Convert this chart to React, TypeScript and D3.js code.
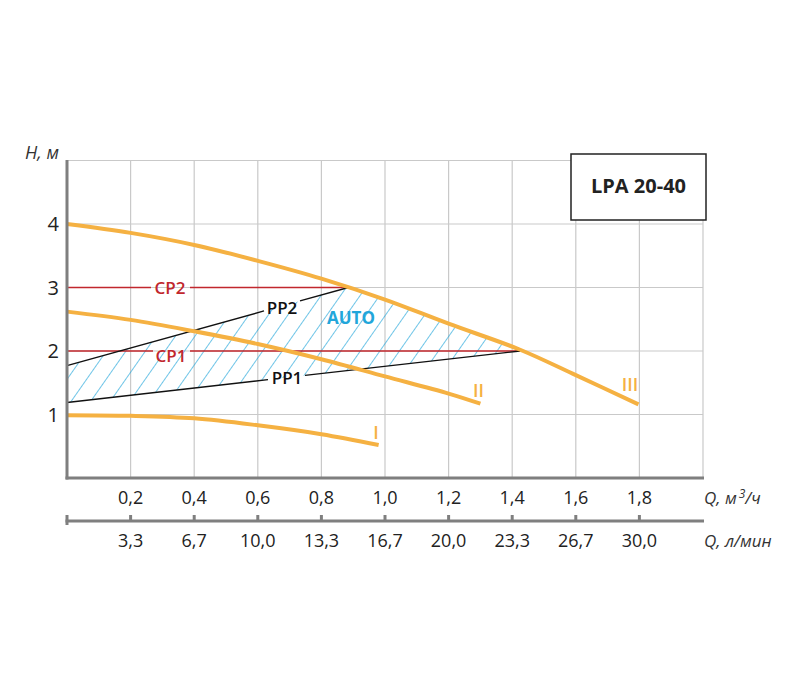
import React from "react";
import * as d3 from "d3";

// ---- data ----
const curveIQ = [0, 0.2, 0.4, 0.6, 0.8, 0.98];
const curveIH = [0.99, 0.98, 0.94, 0.83, 0.69, 0.52];
const curveIIQ = [0, 0.2, 0.4, 0.6, 0.8, 1.0, 1.2, 1.3];
const curveIIH = [2.62, 2.49, 2.31, 2.11, 1.87, 1.6, 1.33, 1.17];
const curveIIIQ = [0, 0.2, 0.4, 0.6, 0.8, 1.0, 1.2, 1.425, 1.6, 1.797];
const curveIIIH = [4.0, 3.86, 3.67, 3.42, 3.14, 2.81, 2.43, 2.02, 1.62, 1.16];

const pp2Q = [0, 0.885];
const pp2H = [1.77, 3.0];
const pp1Q = [0, 1.425];
const pp1H = [1.19, 2.0];
const cp2Q = [0, 0.885];
const cp2H = [3, 3];
const cp1Q = [0, 1.425];
const cp1H = [2, 2];

const xTicks = [0.2, 0.4, 0.6, 0.8, 1.0, 1.2, 1.4, 1.6, 1.8];
const xTickLabels = ["0,2", "0,4", "0,6", "0,8", "1,0", "1,2", "1,4", "1,6", "1,8"];
const lminLabels = ["3,3", "6,7", "10,0", "13,3", "16,7", "20,0", "23,3", "26,7", "30,0"];
const yTicks = [1, 2, 3, 4];
const gridX = [0.2, 0.4, 0.6, 0.8, 1.0, 1.2, 1.4, 1.6, 1.8, 2.0];
const gridY = [1, 2, 3, 4, 5];

const FONT = "'Open Sans', 'Noto Sans', sans-serif";
const ORANGE = "#F5B142";
const RED = "#C1272D";
const CYAN = "#22A6DA";
const GRID = "#C9C9C9";
const AXIS = "#7F7F7F";

export default function App() {
  const x = d3.scaleLinear().domain([0, 2]).range([67, 703]);
  const y = d3.scaleLinear().domain([0, 5]).range([478, 160.5]);

  const zip = (q: number[], h: number[]) => q.map((v, i) => [v, h[i]] as [number, number]);
  const curve = d3.curveCatmullRom.alpha(0.5);
  const smooth = d3
    .line<[number, number]>()
    .x((d) => x(d[0]))
    .y((d) => y(d[1]))
    .curve(curve);
  const under = d3
    .area<[number, number]>()
    .x((d) => x(d[0]))
    .y0(y(0))
    .y1((d) => y(d[1]))
    .curve(curve);
  const straight = d3
    .line<[number, number]>()
    .x((d) => x(d[0]))
    .y((d) => y(d[1]));

  const cI = zip(curveIQ, curveIH);
  const cII = zip(curveIIQ, curveIIH);
  const cIII = zip(curveIIIQ, curveIIIH);

  // hatch region: between PP1 and PP2, clipped under curve III
  const region: [number, number][] = [
    [pp1Q[0], pp1H[0]],
    [pp1Q[1], pp1H[1]],
    [pp1Q[1], 5],
    [pp2Q[1], 5],
    [pp2Q[1], pp2H[1]],
    [pp2Q[0], pp2H[0]],
  ];
  const regionPath = straight(region) + "Z";

  // line with a gap between x pixels g0..g1
  const gapLine = (q: number[], h: number[], g0: number, g1: number) => {
    const x0 = x(q[0]), y0 = y(h[0]), x1 = x(q[1]), y1 = y(h[1]);
    const at = (px: number) => y0 + ((px - x0) / (x1 - x0)) * (y1 - y0);
    return `M${x0},${y0}L${g0},${at(g0)}M${g1},${at(g1)}L${x1},${y1}`;
  };

  return (
    <svg
      width={800}
      height={700}
      style={{ position: "absolute", left: 0, top: 0, background: "#fff" }}
      fontFamily={FONT}
    >
      <defs>
        <pattern
          id="hatch"
          width={16}
          height={16}
          patternUnits="userSpaceOnUse"
          patternTransform="rotate(35)"
        >
          <line x1={0} y1={0} x2={0} y2={16} stroke={CYAN} strokeWidth={1.3} />
        </pattern>
        <clipPath id="underIII">
          <path d={under(cIII) || ""} />
        </clipPath>
      </defs>

      {/* grid */}
      {gridX.map((g) => (
        <line key={"gx" + g} x1={x(g)} x2={x(g)} y1={y(5)} y2={y(0)} stroke={GRID} strokeWidth={1.2} />
      ))}
      {gridY.map((g) => (
        <line key={"gy" + g} x1={x(0)} x2={x(2)} y1={y(g)} y2={y(g)} stroke={GRID} strokeWidth={1.2} />
      ))}

      {/* hatch */}
      <path d={regionPath} fill="url(#hatch)" clipPath="url(#underIII)" />

      {/* CP lines */}
      <path d={gapLine(cp2Q, cp2H, 151, 190)} stroke={RED} strokeWidth={1.3} fill="none" />
      <path d={gapLine(cp1Q, cp1H, 153, 190)} stroke={RED} strokeWidth={1.3} fill="none" />
      {/* PP lines */}
      <path d={gapLine(pp2Q, pp2H, 264, 300)} stroke="#111" strokeWidth={1.4} fill="none" />
      <path d={gapLine(pp1Q, pp1H, 268, 305)} stroke="#111" strokeWidth={1.4} fill="none" />

      {/* pump curves */}
      {[cI, cII, cIII].map((c, i) => (
        <path key={"c" + i} d={smooth(c) || ""} fill="none" stroke={ORANGE} strokeWidth={4} />
      ))}

      {/* labels */}
      <g fontSize={17} fontWeight={600}>
        <text x={170} y={294} fill={RED} textAnchor="middle">CP2</text>
        <text x={171} y={362} fill={RED} textAnchor="middle">CP1</text>
        <text x={282} y={314} fill="#111" textAnchor="middle">PP2</text>
        <text x={287} y={384} fill="#111" textAnchor="middle">PP1</text>
        <text x={351} y={324} fill={CYAN} textAnchor="middle" fontWeight={700}>AUTO</text>
      </g>
      <g fontSize={18} fontWeight={600} fill={ORANGE} textAnchor="middle">
        <text x={376} y={439}>I</text>
        <text x={478.5} y={397}>II</text>
        <text x={630} y={391}>III</text>
      </g>

      {/* axes */}
      <line x1={x(0)} x2={x(0)} y1={160} y2={y(0) + 1.5} stroke={AXIS} strokeWidth={3} />
      <line x1={x(0) - 1.5} x2={x(2) + 1} y1={y(0)} y2={y(0)} stroke={AXIS} strokeWidth={3} />
      {/* second axis (l/min) */}
      <line x1={x(0) - 1.5} x2={x(2) + 1} y1={521} y2={521} stroke={AXIS} strokeWidth={3} />
      <line x1={x(0)} x2={x(0)} y1={515} y2={525} stroke={AXIS} strokeWidth={3} />
      {xTicks.map((t) => (
        <line key={"t2" + t} x1={x(t)} x2={x(t)} y1={515} y2={521} stroke={AXIS} strokeWidth={3} />
      ))}

      <g fontSize={18} fill="#222">
        {yTicks.map((t) => (
          <text key={"y" + t} x={59} y={y(t)} dy="0.35em" textAnchor="end" fontSize={20}>
            {t}
          </text>
        ))}
        {xTicks.map((t, i) => (
          <text key={"x" + t} x={x(t)} y={504} textAnchor="middle">
            {xTickLabels[i]}
          </text>
        ))}
        {xTicks.map((t, i) => (
          <text key={"l" + t} x={x(t)} y={547} textAnchor="middle">
            {lminLabels[i]}
          </text>
        ))}
      </g>

      <g fontStyle="italic" fill="#333" fontSize={18}>
        <text x={25} y={159}>H, м</text>
        <text x={704} y={504} fontSize={17}>
          Q, м<tspan dx={2} dy={-6} fontSize={12}>3</tspan>
          <tspan dy={6}>/ч</tspan>
        </text>
        <text x={704} y={547} fontSize={17}>Q, л/мин</text>
      </g>

      {/* model box */}
      <rect x={571} y={154} width={135} height={66} fill="#fff" stroke="#222" strokeWidth={1.5} />
      <text x={638.5} y={193} textAnchor="middle" fontSize={20} fontWeight={700} fill="#222">
        LPA 20-40
      </text>
    </svg>
  );
}
